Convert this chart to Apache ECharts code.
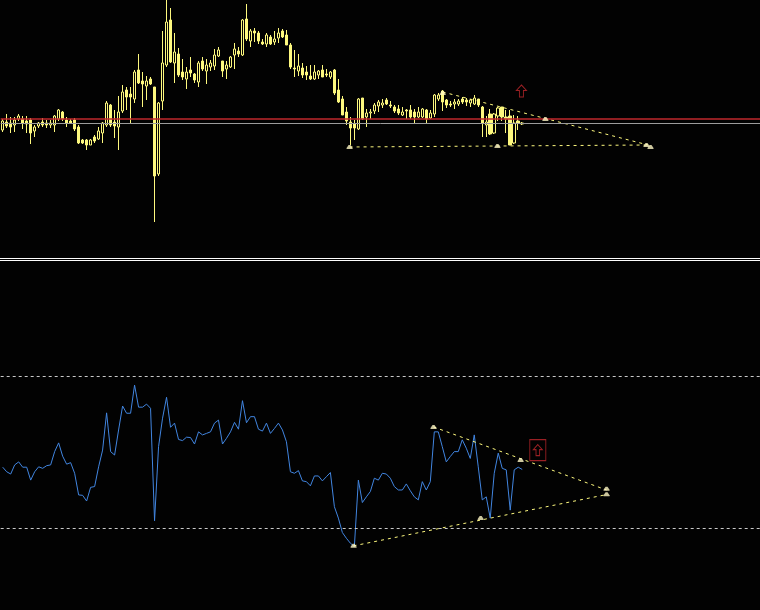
<!DOCTYPE html>
<html>
<head>
<meta charset="utf-8">
<script src="https://cdn.jsdelivr.net/npm/echarts@6/dist/echarts.min.js"></script>
<style>
html, body { margin: 0; padding: 0; background: #000; }
#chart { width: 760px; height: 610px; }
</style>
</head>
<body>
<div id="chart"></div>
<script>
//--------------------------------
// Data
//--------------------------------
// price bars: [open, close, low, high]
const candles = [
    [130,139,128,141],[138,134,132,146],[137,133,127,143],[135,140,128,143],[141,144,139,146],
    [141,137,131,144],[139,136,127,144],[140,127,116,142],[129,133,123,135],[134,137,132,138],
    [138,135,133,142],[137,135,132,140],[135,137,132,140],[135,144,128,145],[141,150,139,151],
    [148,141,139,149],[140,137,133,143],[139,137,136,141],[140,131,129,142],[133,117,116,135],
    [120,117,116,121],[120,115,110,121],[115,120,115,121],[123,119,117,125],[121,129,120,133],
    [127,137,117,138],[135,157,133,159],[155,135,133,156],[138,134,122,150],[133,148,110,164],
    [149,168,147,175],[170,163,150,173],[166,163,137,173],[161,188,157,190],[190,177,176,206],
    [179,176,153,188],[174,179,160,184],[181,176,175,183],[173,84,38,173],[86,157,84,158],
    [159,197,150,229],[195,238,193,260],[240,198,197,252],[197,208,177,227],[206,185,183,212],
    [188,183,180,201],[181,188,171,193],[190,187,183,203],[186,180,177,187],[178,197,173,199],
    [199,191,189,203],[189,195,176,201],[193,197,189,200],[194,205,190,211],[204,210,203,213],
    [199,189,183,199],[191,195,181,199],[193,203,192,204],[205,211,191,217],[209,206,203,213],
    [205,240,204,241],[241,221,219,256],[219,229,213,231],[229,227,218,232],[227,219,216,229],
    [218,216,215,221],[216,225,213,227],[223,216,215,225],[218,221,215,229],[222,227,217,232],
    [229,223,222,231],[225,215,215,230],[215,193,191,217],[192,191,183,210],[189,194,184,206],
    [192,185,182,197],[188,185,180,194],[184,181,180,195],[181,188,180,195],[185,189,181,190],
    [190,183,183,195],[186,185,183,191],[183,188,181,189],[190,167,165,191],[170,158,157,181],
    [161,145,145,164],[148,139,135,153],[138,132,115,143],[136,132,120,140],[131,161,130,162],
    [162,141,140,162],[143,147,133,151],[147,148,141,151],[149,155,146,157],[154,158,148,160],
    [155,157,152,161],[160,156,155,162],[155,154,152,159],[153,149,147,155],[151,147,145,155],
    [145,148,144,153],[150,149,141,151],[150,143,141,155],[148,143,137,151],[143,148,142,153],
    [143,151,142,152],[150,141,137,151],[142,147,141,150],[146,165,143,166],[161,165,159,167],
    [169,158,149,170],[160,155,152,161],[156,155,153,159],[156,158,151,161],[156,159,154,161],
    [161,158,156,163],[160,158,154,162],[157,160,153,161],[156,162,155,165],[161,155,153,161],
    [153,137,123,154],[135,138,123,144],[146,126,125,151],[127,146,126,147],[144,152,139,153],
    [153,143,139,153],[143,141,127,150],[144,115,115,150],[117,137,116,145],[139,137,130,144],
    [137,136,135,138]
];

// oscillator values, one per bar
const osc = [
    46.0,44.8,44.2,46.6,47.4,46.0,46.0,42.6,44.8,46.1,
    45.7,46.4,46.6,50.1,52.4,48.9,46.8,47.2,44.4,38.7,
    38.6,37.1,40.7,40.9,46.1,50.5,60.3,50.1,49.2,55.8,
    62.1,60.2,60.2,67.6,61.8,61.8,62.6,61.5,31.9,51.4,
    58.9,64.4,56.5,57.6,53.3,53.0,53.9,53.8,52.1,55.3,
    54.5,54.9,55.3,57.6,58.4,52.1,53.6,55.3,57.8,56.0,
    63.5,57.7,59.3,59.3,56.0,55.5,57.6,54.9,56.2,57.6,
    55.8,52.7,44.8,44.4,45.1,42.4,42.2,41.1,43.7,43.7,
    42.4,43.5,44.6,35.6,32.6,28.8,27.3,26.0,25.1,42.6,
    36.7,38.2,39.6,43.1,42.6,44.4,44.2,43.1,40.9,40.0,
    40.0,41.6,39.8,38.2,37.4,42.2,40.0,42.2,55.3,55.3,
    51.4,47.4,48.8,50.1,50.1,53.2,51.0,48.3,54.5,46.1,
    37.4,38.2,32.6,44.4,49.7,45.7,45.3,34.7,45.3,46.0,
    45.4
];

const slotCount = 190;
const redLevel = 141.7;
const grayLevel = 136.7;
const oscLevels = [70, 30];

// trend lines: [[bar, value], [bar, value]]
const priceTrends = [
    [[86.8, 113], [161.5, 115]],
    [[110.1, 168], [161.5, 115]]
];
const oscTrends = [
    [[107.8, 56.6], [151.1, 40.0]],
    [[87.8, 25.3], [151.1, 38.8]]
];
// anchor handles of the trend lines
const priceAnchors = [[86.8, 113], [110.1, 167], [123.8, 114], [135.8, 141], [161.1, 115], [162.1, 113]];
const oscAnchors = [[107.8, 56.6], [129.6, 47.9], [151.1, 40.3], [151.1, 38.9], [87.8, 25.3], [119.6, 32.6]];
// signal arrows
const priceArrow = [[129.8, 169]];
const oscArrow = [[133.9, 50.5]];

//--------------------------------
// Style
//--------------------------------
const yellow = '#fdf87e';
const red = '#c0282d';
const arrowPath = 'path://M5,0 L10,5 L7,5 L7,11 L3,11 L3,5 L0,5 Z';
const anchorPath = 'path://M2,0 L4,0 L6,3 L6,4 L0,4 L0,3 Z';

const trendSeries = (list, xi, yi) => list.map(t => ({
    type: 'line',
    xAxisIndex: xi,
    yAxisIndex: yi,
    data: t,
    symbol: 'none',
    silent: true,
    lineStyle: { color: yellow, width: 1, type: [3, 4] }
}));

const anchorSeries = (pts, xi, yi) => ({
    type: 'scatter',
    xAxisIndex: xi,
    yAxisIndex: yi,
    data: pts,
    symbol: anchorPath,
    symbolSize: [6, 4],
    itemStyle: { color: '#fff8c4' },
    z: 5
});

//--------------------------------
// Chart
//--------------------------------
const myChart = echarts.init(document.getElementById('chart'));

let slots = [];
for (let i = 0; i < slotCount; i++) slots.push(String(i));

let options = {
    backgroundColor: '#020202',
    animation: false,
    grid: [
        { left: 0.7, top: 0, width: 760, height: 257 },
        { left: 0.7, top: 262, width: 760, height: 348 }
    ],
    xAxis: [
        { type: 'category', gridIndex: 0, data: slots, show: false },
        { type: 'value', gridIndex: 0, min: -0.5, max: slotCount - 0.5, show: false },
        { type: 'value', gridIndex: 1, min: -0.5, max: slotCount - 0.5, show: false }
    ],
    yAxis: [
        { type: 'value', gridIndex: 0, min: 3, max: 260, show: false },
        { type: 'value', gridIndex: 1, min: 8.42, max: 100, show: false }
    ],
    graphic: [
        { type: 'line', shape: { x1: 0, y1: 258.5, x2: 760, y2: 258.5 }, style: { stroke: '#ffffff', lineWidth: 1 } },
        { type: 'line', shape: { x1: 0, y1: 260.5, x2: 760, y2: 260.5 }, style: { stroke: '#ffffff', lineWidth: 1 } }
    ],
    series: [
        {
            type: 'candlestick',
            xAxisIndex: 0,
            yAxisIndex: 0,
            data: candles,
            barWidth: 3,
            itemStyle: {
                color: '#020202',
                color0: yellow,
                borderColor: yellow,
                borderColor0: yellow,
                borderColorDoji: yellow,
                borderWidth: 1
            },
            markLine: {
                silent: true,
                symbol: 'none',
                label: { show: false },
                data: [
                    { yAxis: redLevel, lineStyle: { color: red, width: 1.5, type: 'solid' } },
                    { yAxis: grayLevel, lineStyle: { color: '#9c9c9c', width: 1, type: 'solid' } }
                ]
            },
            z: 3
        },
        ...trendSeries(priceTrends, 1, 0),
        anchorSeries(priceAnchors, 1, 0),
        {
            type: 'scatter',
            xAxisIndex: 1,
            yAxisIndex: 0,
            data: priceArrow,
            symbol: arrowPath,
            symbolSize: [10, 12],
            itemStyle: { color: 'transparent', borderColor: red, borderWidth: 1 }
        },
        {
            type: 'line',
            xAxisIndex: 2,
            yAxisIndex: 1,
            data: osc.map((v, i) => [i, v]),
            symbol: 'none',
            lineStyle: { color: '#4185e0', width: 1 },
            markLine: {
                silent: true,
                symbol: 'none',
                label: { show: false },
                lineStyle: { color: '#c8c8c8', width: 1, type: [3, 3] },
                data: oscLevels.map(v => ({ yAxis: v }))
            }
        },
        ...trendSeries(oscTrends, 2, 1),
        anchorSeries(oscAnchors, 2, 1),
        {
            type: 'scatter',
            xAxisIndex: 2,
            yAxisIndex: 1,
            data: oscArrow,
            symbol: 'rect',
            symbolSize: [16, 21],
            itemStyle: { color: 'transparent', borderColor: red, borderWidth: 1 }
        },
        {
            type: 'scatter',
            xAxisIndex: 2,
            yAxisIndex: 1,
            data: oscArrow,
            symbol: arrowPath,
            symbolSize: [9, 11],
            itemStyle: { color: 'transparent', borderColor: red, borderWidth: 1 }
        }
    ]
};
myChart.setOption(options);
</script>
</body>
</html>
